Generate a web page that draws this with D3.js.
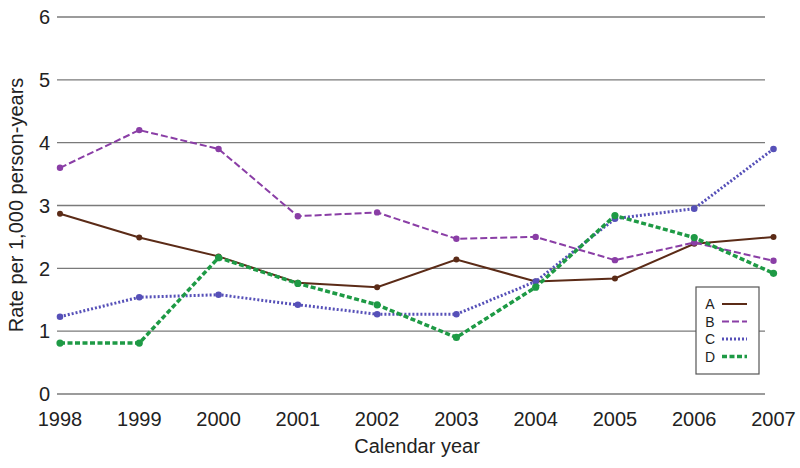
<!DOCTYPE html>
<meta charset="utf-8">
<style>
body { margin: 0; background: #fff; }
text { font-family: Arial, "Liberation Sans", sans-serif; fill: #222; }
.grid line { stroke: #7a7a7a; stroke-width: 1.3px; }
</style>
<svg width="800" height="468"></svg>
<script src="https://d3js.org/d3.v7.min.js"></script>
<script>

var years = [1998, 1999, 2000, 2001, 2002, 2003, 2004, 2005, 2006, 2007];
var yTicks = [0, 1, 2, 3, 4, 5, 6];

var rateA = [2.87, 2.49, 2.19, 1.77, 1.70, 2.14, 1.79, 1.84, 2.39, 2.50];
var rateB = [3.60, 4.20, 3.90, 2.83, 2.89, 2.47, 2.50, 2.13, 2.41, 2.12];
var rateC = [1.23, 1.54, 1.58, 1.42, 1.27, 1.27, 1.79, 2.79, 2.95, 3.90];
var rateD = [0.81, 0.81, 2.17, 1.76, 1.42, 0.90, 1.70, 2.84, 2.49, 1.92];

var seriesNames = ["A", "B", "C", "D"];

var svg = d3.select("svg");

var x = d3.scaleLinear().domain([1998, 2007]).range([60, 773.5]);
var y = d3.scaleLinear().domain([0, 6]).range([394, 17]);

// styles per series
var styles = {
  A: { color: "#5b2b17", width: 2, dash: null, r: 3 },
  B: { color: "#8a3ea6", width: 2, dash: "7,3", r: 3.2 },
  C: { color: "#5650b8", width: 3, dash: "2,2", r: 3.3 },
  D: { color: "#1e9a45", width: 3.5, dash: "5,2.5", r: 3.6 }
};

var series = [
  { name: "A", values: rateA },
  { name: "B", values: rateB },
  { name: "C", values: rateC },
  { name: "D", values: rateD }
];

// gridlines
var grid = svg.append("g").attr("class", "grid");
grid.selectAll("line")
  .data(yTicks)
  .enter().append("line")
    .attr("x1", 57)
    .attr("x2", 765)
    .attr("y1", function(d) { return y(d); })
    .attr("y2", function(d) { return y(d); });

// y tick labels
svg.append("g").selectAll("text")
  .data(yTicks)
  .enter().append("text")
    .attr("x", 50)
    .attr("y", function(d) { return y(d); })
    .attr("dy", "0.36em")
    .attr("text-anchor", "end")
    .style("font-size", "20px")
    .text(function(d) { return d; });

// x tick labels
svg.append("g").selectAll("text")
  .data(years)
  .enter().append("text")
    .attr("x", function(d) { return x(d); })
    .attr("y", 426)
    .attr("text-anchor", "middle")
    .style("font-size", "20px")
    .text(function(d) { return d; });

svg.append("text")
  .attr("x", 417)
  .attr("y", 453)
  .attr("text-anchor", "middle")
  .style("font-size", "20px")
  .text("Calendar year");

svg.append("text")
  .attr("transform", "translate(23,205) rotate(-90)")
  .attr("text-anchor", "middle")
  .style("font-size", "20px")
  .text("Rate per 1,000 person-years");

var line = d3.line()
  .x(function(d, i) { return x(years[i]); })
  .y(function(d) { return y(d); });

var g = svg.selectAll(".series")
  .data(series)
  .enter().append("g")
    .attr("class", "series");

g.append("path")
  .attr("fill", "none")
  .attr("stroke", function(d) { return styles[d.name].color; })
  .attr("stroke-width", function(d) { return styles[d.name].width; })
  .attr("stroke-dasharray", function(d) { return styles[d.name].dash; })
  .attr("d", function(d) { return line(d.values); });

g.selectAll("circle")
  .data(function(d) { return d.values.map(function(v, i) { return { name: d.name, v: v, i: i }; }); })
  .enter().append("circle")
    .attr("cx", function(d) { return x(years[d.i]); })
    .attr("cy", function(d) { return y(d.v); })
    .attr("r", function(d) { return styles[d.name].r; })
    .attr("fill", function(d) { return styles[d.name].color; });

// legend
var legend = svg.append("g").attr("transform", "translate(696,287)");
legend.append("rect")
  .attr("width", 63)
  .attr("height", 87)
  .attr("fill", "#fff")
  .attr("stroke", "#555")
  .attr("stroke-width", 1.2);

var item = legend.selectAll(".item")
  .data(seriesNames)
  .enter().append("g")
    .attr("transform", function(d, i) { return "translate(0," + (17 + i * 17.5) + ")"; });

item.append("text")
  .attr("x", 14)
  .attr("dy", "0.36em")
  .attr("text-anchor", "middle")
  .style("font-size", "14px")
  .text(function(d) { return d; });

item.append("line")
  .attr("x1", 26)
  .attr("x2", 51)
  .attr("stroke", function(d) { return styles[d].color; })
  .attr("stroke-width", function(d) { return styles[d].width; })
  .attr("stroke-dasharray", function(d) { return styles[d].dash; });

</script>
